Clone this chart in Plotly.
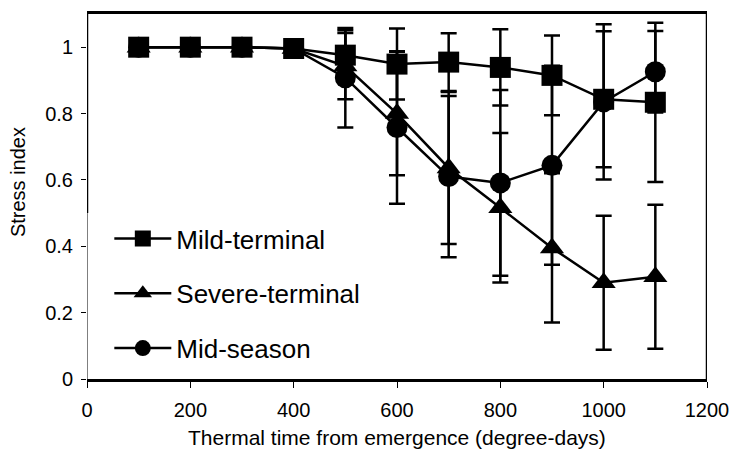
import plotly.graph_objects as go

x_dd = [100, 200, 300, 400, 500, 600, 700, 800, 900, 1000, 1100]

mild = [1.0, 1.0, 1.0, 0.996, 0.976, 0.949, 0.955, 0.939, 0.915, 0.843, 0.834]
mild_err = [0, 0, 0, 0, 0.075, 0.107, 0.087, 0.115, 0.12, 0.205, 0.24]

severe = [1.0, 1.0, 1.0, 0.996, 0.943, 0.80, 0.636, 0.516, 0.395, 0.29, 0.308]
severe_err = [0, 0, 0, 0, 0.10, 0.186, 0.229, 0.225, 0.225, 0.202, 0.217]

mid = [1.0, 1.0, 1.0, 0.996, 0.908, 0.758, 0.61, 0.591, 0.644, 0.835, 0.926]
mid_err = [0, 0, 0, 0, 0.15, 0.23, 0.243, 0.28, 0.30, 0.234, 0.123]

series_names = ["Mild-terminal", "Severe-terminal", "Mid-season"]
x_ticks = [0, 200, 400, 600, 800, 1000, 1200]
y_ticks = [0, 0.2, 0.4, 0.6, 0.8, 1]
y_tick_text = ["0", "0.2", "0.4", "0.6", "0.8", "1"]

FONT = "Liberation Sans, Arial, sans-serif"

fig = go.Figure()

specs = [
    (series_names[2], mid, mid_err, "circle", 21),
    (series_names[1], severe, severe_err, "triangle-up", 21),
    (series_names[0], mild, mild_err, "square", 21),
]
order_rank = {series_names[0]: 1, series_names[1]: 2, series_names[2]: 3}
for name, vals, errs, sym, sz in specs:
    fig.add_trace(go.Scatter(
        x=x_dd, y=vals, name=name, mode="lines+markers",
        line=dict(color="black", width=2.5),
        marker=dict(symbol=sym, size=sz, color="black"),
        error_y=dict(type="data", array=errs, visible=True, color="black",
                     thickness=2.5, width=8),
        legendgroup=name, legendrank=order_rank[name],
    ))

# left axis line: thick upper part, thin lower part (as in the reference)
fig.add_shape(type="line", xref="x", yref="y", x0=0, x1=0, y0=0.5, y1=1.1,
              line=dict(color="black", width=2.5))
fig.add_shape(type="line", xref="x", yref="y", x0=0, x1=0, y0=0, y1=0.5,
              line=dict(color="black", width=1))
fig.add_shape(type="line", xref="x", yref="y", x0=1200, x1=1200, y0=0, y1=1.1,
              line=dict(color="black", width=2.5))

fig.add_annotation(text="Stress index", xref="paper", yref="paper",
                   x=-0.111, y=0.54, xanchor="center", yanchor="middle",
                   textangle=-90, showarrow=False,
                   font=dict(family=FONT, size=20, color="black"))
fig.add_annotation(text="Thermal time from emergence (degree-days)",
                   xref="paper", yref="paper", x=0.5, y=-0.159,
                   xanchor="center", yanchor="middle", showarrow=False,
                   font=dict(family=FONT, size=21, color="black"))

fig.update_layout(
    width=732, height=457,
    margin=dict(l=87, r=25, t=14, b=78, autoexpand=False),
    paper_bgcolor="white", plot_bgcolor="white",
    font=dict(family=FONT, size=20, color="black"),
    showlegend=True,
    legend=dict(x=0.036, y=0.449, xanchor="left", yanchor="top",
                bgcolor="rgba(0,0,0,0)", font=dict(family=FONT, size=26),
                tracegroupgap=18, itemwidth=57),
    xaxis=dict(range=[0, 1200], tickvals=x_ticks, showgrid=False,
               zeroline=False, showline=True, linewidth=2.5, linecolor="black",
               mirror=True, ticks="outside", ticklen=6, tickwidth=1,
               tickcolor="black", ticklabelstandoff=5, automargin=False,
               tickfont=dict(family=FONT, size=20)),
    yaxis=dict(range=[0, 1.1], tickvals=y_ticks, ticktext=y_tick_text,
               showgrid=False, zeroline=False, showline=False,
               ticks="outside", ticklen=5, tickwidth=1, tickcolor="black",
               ticklabelstandoff=4, automargin=False,
               tickfont=dict(family=FONT, size=20)),
)

fig.write_html("out.html")
